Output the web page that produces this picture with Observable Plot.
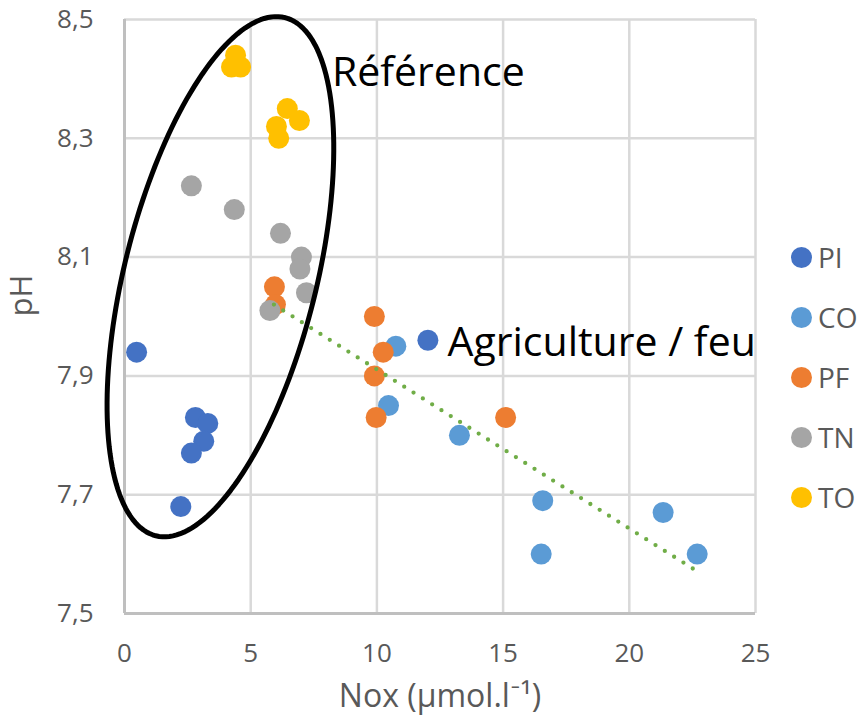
<!DOCTYPE html>
<html>
<head>
<meta charset="utf-8">
<script src="https://cdn.jsdelivr.net/npm/d3@7"></script>
<script src="https://cdn.jsdelivr.net/npm/@observablehq/plot@0.6"></script>
<style>
  html, body { margin: 0; padding: 0; background: #fff; }
  #wrap { position: relative; width: 861px; height: 727px; overflow: hidden; font-family: "Open Sans", Lato, sans-serif; }
  #legend { position: absolute; left: 791px; top: 227px; }
  .row { height: 60px; display: flex; align-items: center; font-size: 28px; color: #595959; white-space: nowrap; }
  .sw { width: 21px; height: 21px; border-radius: 50%; margin-right: 6px; flex: none; }
</style>
</head>
<body>
<div id="wrap"><div id="chart"></div><div id="legend"></div></div>
<script>
// ---- data ----
const xTicks = [0, 5, 10, 15, 20, 25];
const yTicks = [7.5, 7.7, 7.9, 8.1, 8.3, 8.5];
const series = ["PI", "CO", "PF", "TN", "TO"];
const colors = ["#4472C4", "#5B9BD5", "#ED7D31", "#A5A5A5", "#FFC000"];

const piX = [0.48, 2.81, 3.30, 3.14, 2.65, 2.23, 12.02];
const piY = [7.94, 7.83, 7.82, 7.79, 7.77, 7.68, 7.96];
const coX = [10.75, 10.46, 13.27, 16.57, 16.51, 21.34, 22.69];
const coY = [7.95, 7.85, 7.80, 7.69, 7.60, 7.67, 7.60];
const pfX = [5.94, 5.98, 9.90, 10.25, 9.90, 9.97, 15.10];
const pfY = [8.05, 8.02, 8.00, 7.94, 7.90, 7.83, 7.83];
const tnX = [2.65, 4.35, 6.18, 7.01, 6.95, 7.21, 5.76];
const tnY = [8.22, 8.18, 8.14, 8.10, 8.08, 8.04, 8.01];
const toX = [4.40, 4.24, 4.60, 6.45, 6.93, 6.02, 6.11];
const toY = [8.44, 8.42, 8.42, 8.35, 8.33, 8.32, 8.30];

const trendX = [5.92, 22.58];
const trendY = [8.02, 7.574];

const annText = ["Référence", "Agriculture / feu"];
const annX = [8.22, 12.8];
const annY = [8.41, 7.955];

const xTitle = "Nox (µmol.l⁻¹)";
const yTitle = "pH";

// ---- build tables ----
const seriesX = [piX, coX, pfX, tnX, toX];
const seriesY = [piY, coY, pfY, tnY, toY];
const points = [];
series.forEach((s, i) => seriesX[i].forEach((x, j) => points.push({series: s, x, y: seriesY[i][j]})));
const trend = trendX.map((x, i) => ({x, y: trendY[i]}));
const ann = annText.map((t, i) => ({t, x: annX[i], y: annY[i]}));

// ---- layout ----
const W = 861, H = 727, mL = 124, mR = 106, mT = 19, mB = 114;
const xDom = [0, 25], yDom = [7.5, 8.5];
const kx = (W - mL - mR) / (xDom[1] - xDom[0]);
const ky = (H - mT - mB) / (yDom[1] - yDom[0]);

// annotation ellipse (hand-drawn shape), centre in data units, size in px
const ellC = {x: 3.80, y: 8.067}, ellA = 267, ellB = 96, ellTilt = 14 * Math.PI / 180;
const ellipse = d3.range(0, 362, 2).map(deg => {
  const t = deg * Math.PI / 180;
  const ca = ellA * Math.cos(t), sb = ellB * Math.sin(t);
  const px = ca * Math.sin(ellTilt) + sb * Math.cos(ellTilt);
  const py = -ca * Math.cos(ellTilt) + sb * Math.sin(ellTilt);
  return {x: ellC.x + px / kx, y: ellC.y - py / ky};
});

const fmt = d => String(d).replace(".", ",");
const yfmt = d => d.toFixed(1).replace(".", ",");

const chart = Plot.plot({
  width: W, height: H,
  marginLeft: mL, marginRight: mR, marginTop: mT, marginBottom: mB,
  style: {fontFamily: '"Open Sans", Lato, sans-serif', fontSize: "26px", color: "#595959", background: "white", overflow: "visible"},
  x: {domain: xDom, ticks: xTicks, tickSize: 0, tickPadding: 30, tickFormat: fmt, label: null},
  y: {domain: yDom, ticks: yTicks, tickSize: 0, tickPadding: 31, tickFormat: yfmt, label: null},
  color: {domain: series, range: colors},
  marks: [
    Plot.ruleX(xTicks, {stroke: "#d9d9d9", strokeWidth: 2.5}),
    Plot.ruleY(yTicks, {stroke: "#d9d9d9", strokeWidth: 2.5}),
    Plot.ruleX([xDom[0]], {stroke: "#bfbfbf", strokeWidth: 3}),
    Plot.ruleY([yDom[0]], {stroke: "#bfbfbf", strokeWidth: 3}),
    Plot.dot(points, {x: "x", y: "y", fill: "series", r: 10.5, stroke: "none"}),
    Plot.line(trend, {x: "x", y: "y", stroke: "#70AD47", strokeWidth: 4.3, strokeDasharray: "0 11", strokeLinecap: "round"}),
    Plot.line(ellipse, {x: "x", y: "y", stroke: "black", strokeWidth: 5, fill: "none"}),
    Plot.text(ann, {x: "x", y: "y", text: "t", textAnchor: "start", fill: "black", fontSize: 41}),
    Plot.text([yTitle], {frameAnchor: "left", dx: -102, rotate: -90, fontSize: 31, fill: "#595959"}),
    Plot.text([xTitle], {frameAnchor: "bottom", dy: 93, fontSize: 32, fill: "#595959"})
  ]
});
document.getElementById("chart").appendChild(chart);

// legend
const lg = document.getElementById("legend");
series.forEach((s, i) => {
  const row = document.createElement("div");
  row.className = "row";
  const sw = document.createElement("span");
  sw.className = "sw";
  sw.style.background = colors[i];
  const lab = document.createElement("span");
  lab.textContent = s;
  row.appendChild(sw); row.appendChild(lab);
  lg.appendChild(row);
});
</script>
</body>
</html>
